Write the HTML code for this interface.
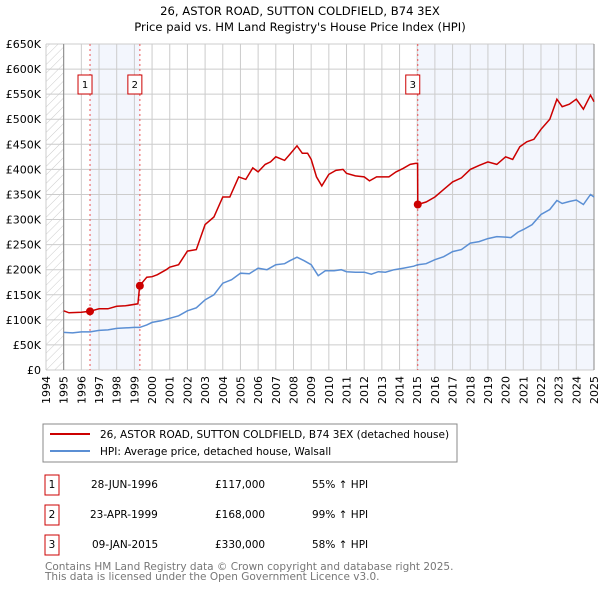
<!DOCTYPE html>
<html><head><meta charset="utf-8"><style>
body{margin:0;background:#fff;font-family:"DejaVu Sans","Liberation Sans",sans-serif;}
svg text{font-family:"DejaVu Sans","Liberation Sans",sans-serif;}
</style></head><body>
<svg id="c" width="600" height="590" viewBox="0 0 600 590" xmlns="http://www.w3.org/2000/svg">
<defs><pattern id="hatch" width="6" height="6" patternUnits="userSpaceOnUse" patternTransform="rotate(45)"><line x1="0" y1="0" x2="0" y2="6" stroke="#ccc" stroke-width="1"/></pattern></defs>
<text x="300" y="15" text-anchor="middle" font-size="11.6">26, ASTOR ROAD, SUTTON COLDFIELD, B74 3EX</text>
<text x="300" y="31" text-anchor="middle" font-size="11.6">Price paid vs. HM Land Registry's House Price Index (HPI)</text>
<g id="plot"></g>
<rect x="43" y="424" width="414" height="38" fill="#fff" stroke="#888"/>
<line x1="50" y1="434" x2="90" y2="434" stroke="#cc0000" stroke-width="2"/>
<text x="100" y="438" font-size="10.5">26, ASTOR ROAD, SUTTON COLDFIELD, B74 3EX (detached house)</text>
<line x1="50" y1="451" x2="90" y2="451" stroke="#5b8fd4" stroke-width="2"/>
<text x="100" y="455" font-size="10.5">HPI: Average price, detached house, Walsall</text>
<g font-size="10.5">
<rect x="45" y="475" width="14" height="20" fill="#fff" stroke="#cc0000"/><text x="52" y="488" text-anchor="middle">1</text>
<text x="91" y="488">28-JUN-1996</text><text x="215" y="488">£117,000</text><text x="312" y="488">55% ↑ HPI</text>
<rect x="45" y="505" width="14" height="20" fill="#fff" stroke="#cc0000"/><text x="52" y="518" text-anchor="middle">2</text>
<text x="90" y="518">23-APR-1999</text><text x="215" y="518">£168,000</text><text x="312" y="518">99% ↑ HPI</text>
<rect x="45" y="535" width="14" height="20" fill="#fff" stroke="#cc0000"/><text x="52" y="548" text-anchor="middle">3</text>
<text x="92" y="548">09-JAN-2015</text><text x="215" y="548">£330,000</text><text x="312" y="548">58% ↑ HPI</text>
</g>
<text x="45" y="570" font-size="10.5" fill="#777">Contains HM Land Registry data © Crown copyright and database right 2025.</text>
<text x="45" y="580" font-size="10.5" fill="#777">This data is licensed under the Open Government Licence v3.0.</text>
</svg>
<script>
const hpiYears=[1995,1995.5,1996,1996.5,1997,1997.5,1998,1998.5,1999,1999.3,1999.7,2000,2000.5,2001,2001.5,2002,2002.5,2003,2003.5,2004,2004.5,2005,2005.5,2006,2006.5,2007,2007.5,2007.8,2008.2,2008.6,2009,2009.4,2009.8,2010.3,2010.7,2011,2011.5,2012,2012.4,2012.8,2013.2,2013.7,2014.2,2014.8,2015.03,2015.5,2016,2016.5,2017,2017.5,2018,2018.5,2019,2019.5,2020,2020.3,2020.7,2021,2021.5,2022,2022.5,2022.9,2023.2,2023.6,2024,2024.4,2024.8,2025];
const hpiValues=[75,74,76,76,79,80,83,84,85,85,90,95,98,103,108,118,124,140,150,173,180,193,192,203,200,210,212,218,225,218,210,188,198,198,200,196,195,195,191,196,195,200,203,207,210,212,220,226,236,240,253,256,262,266,265,264,275,280,290,310,320,338,332,336,339,330,350,345];
const redYears=[1995,1995.3,1996,1996.49,1997,1997.5,1998,1998.5,1999.2,1999.3,1999.7,2000,2000.3,2000.8,2001,2001.5,2002,2002.5,2003,2003.5,2004,2004.4,2004.9,2005.3,2005.7,2006,2006.4,2006.7,2007,2007.5,2007.8,2008.2,2008.5,2008.8,2009,2009.3,2009.6,2010,2010.4,2010.8,2011,2011.5,2012,2012.3,2012.7,2013,2013.4,2013.8,2014.2,2014.6,2014.9,2015.02,2015.03,2015.5,2016,2016.5,2017,2017.5,2018,2018.5,2019,2019.5,2020,2020.4,2020.8,2021.2,2021.6,2022,2022.5,2022.9,2023.2,2023.6,2024,2024.4,2024.8,2025];
const redValues=[118,114,115,117,122,122,127,128,132,168,185,186,190,200,205,210,237,240,290,305,345,345,385,380,403,395,410,415,425,418,430,447,432,432,420,385,367,390,398,400,392,387,385,377,385,385,385,395,402,410,412,412,330,335,345,360,375,383,400,408,415,410,425,420,445,455,460,480,500,540,525,530,540,520,548,535];
const sales=[[1996.49,117],[1999.31,168],[2015.03,330]];
const yTicks=[0,50,100,150,200,250,300,350,400,450,500,550,600,650];
const xTicks=[1994,1995,1996,1997,1998,1999,2000,2001,2002,2003,2004,2005,2006,2007,2008,2009,2010,2011,2012,2013,2014,2015,2016,2017,2018,2019,2020,2021,2022,2023,2024,2025];
const X0=46,X1=594,Y0=370,Y1=44,xMin=1994,xMax=2025,yMax=650;
const xs=v=>X0+(v-xMin)/(xMax-xMin)*(X1-X0);
const ys=v=>Y0-v/yMax*(Y0-Y1);
const NS="http://www.w3.org/2000/svg",g=document.getElementById('plot');
function mk(t,a,p){const e=document.createElementNS(NS,t);for(const k in a)e.setAttribute(k,a[k]);(p||g).appendChild(e);return e;}
let e;
e=mk('rect',{x:X0,y:Y1,width:X1-X0,height:Y0-Y1,fill:'#fff'});


e=mk('rect',{x:X0,y:Y1,width:xs(1995)-X0,height:Y0-Y1,fill:'url(#hatch)'});


e=mk('rect',{x:xs(sales[0][0]),y:Y1,width:xs(sales[1][0])-xs(sales[0][0]),height:Y0-Y1,fill:'#f3f6fd'});


e=mk('rect',{x:xs(sales[2][0]),y:Y1,width:X1-xs(sales[2][0]),height:Y0-Y1,fill:'#f3f6fd'});


yTicks.forEach(v=>{
 e=mk('line',{x1:X0,x2:X1,y1:ys(v),y2:ys(v),stroke:'#ccc'});
 
 
 e=mk('text',{x:X0-5,y:ys(v)+4,'text-anchor':'end','font-size':11});
 e.textContent=v===0?'£0':'£'+v+'K';
 
 
});
xTicks.forEach(v=>{
 e=mk('line',{x1:xs(v),x2:xs(v),y1:Y1,y2:Y0,stroke:'#ccc'});
 
 
 e=mk('text',{x:0,y:0,'font-size':11,'text-anchor':'end',transform:`translate(${xs(v)+4},${Y0+6}) rotate(-90)`});
 e.textContent=v;
 
 
});
e=mk('line',{x1:xs(1995),x2:xs(1995),y1:Y1,y2:Y0,stroke:'#888'});


e=mk('line',{x1:X1,x2:X1,y1:Y1,y2:Y0,stroke:'#888'});


sales.forEach((s,i)=>{
 e=mk('line',{x1:xs(s[0]),x2:xs(s[0]),y1:Y1,y2:Y0,stroke:'#e55','stroke-dasharray':'2,3'});
 
 
 e=mk('rect',{x:xs(s[0])-12,y:75,width:14,height:19,fill:'#fff',stroke:'#cc0000'});
 
 
 e=mk('text',{x:xs(s[0])-5,y:88,'text-anchor':'middle','font-size':10});
 e.textContent=i+1;
 
 
});
const path=(xa,va)=>xa.map((x,i)=>(i?'L':'M')+xs(x).toFixed(1)+','+ys(va[i]).toFixed(1)).join('');
e=mk('path',{d:path(hpiYears,hpiValues),fill:'none',stroke:'#5b8fd4','stroke-width':1.5});


e=mk('path',{d:path(redYears,redValues),fill:'none',stroke:'#cc0000','stroke-width':1.5});


sales.forEach((s,i)=>{
 e=mk('circle',{cx:xs(s[0]),cy:ys(s[1]),r:4,fill:'#cc0000'});
 
 
});
</script>
</body></html>
